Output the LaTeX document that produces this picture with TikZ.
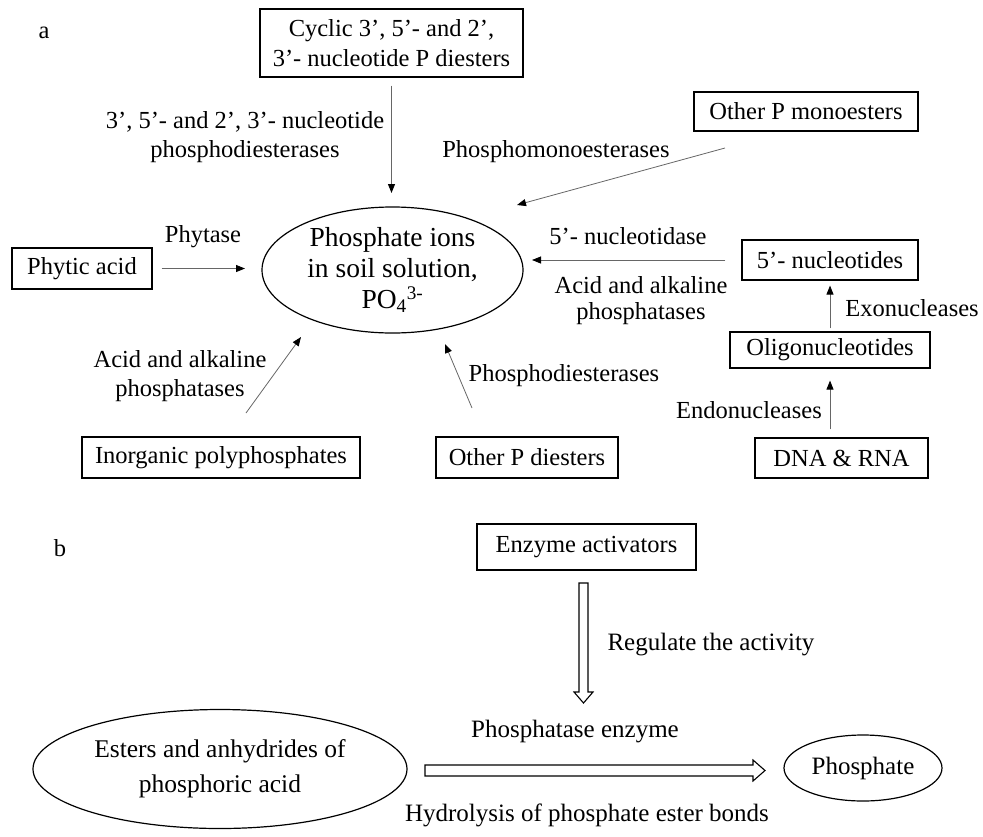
\documentclass[tikz,border=0pt]{standalone}
\usepackage{fontspec}
\setmainfont{Liberation Serif}
\usetikzlibrary{arrows.meta,shapes.geometric}

\begin{document}
\begin{tikzpicture}[x=1pt, y=-1pt,
  font=\fontsize{24.5}{29}\selectfont,
  box/.style={draw=black, line width=1.2pt, inner sep=0pt, align=center},
  oval/.style={ellipse, draw=black, line width=1.2pt, inner sep=0pt, align=center},
  lbl/.style={inner sep=0pt, align=center},
  flow/.style={draw=black!60, line width=0.8pt, -{Triangle[length=9pt, width=7pt, color=black]}},
  hollow/.style={draw=black, line width=1.1pt, line join=miter},
  ]
  \useasboundingbox (0,0) rectangle (983,836);

  %%% panel a : nodes %%%
  \node[lbl] (pa) at (44,33) {a};
  \node[box, minimum width=263pt, minimum height=68pt, font=\fontsize{24.5}{30}\selectfont] (cyclic) at (391.5,43) {Cyclic 3’, 5’- and 2’,\\3’- nucleotide P diesters};
  \node[oval, minimum width=261pt, minimum height=126pt, font=\fontsize{27.5}{31}\selectfont] (pion) at (392.5,270) {Phosphate ions\\in soil solution,\\PO\textsubscript{4}\textsuperscript{3-}};
  \node[box, minimum width=140pt, minimum height=41pt] (phytic) at (82,268.5) {Phytic acid};
  \node[box, minimum width=224pt, minimum height=39pt] (pmono) at (806,111.5) {Other P monoesters};
  \node[box, minimum width=176pt, minimum height=40pt] (nuc5) at (830,260) {5’- nucleotides};
  \node[box, minimum width=200pt, minimum height=36pt] (oligo) at (830,350) {Oligonucleotides};
  \node[box, minimum width=173pt, minimum height=40pt] (dna) at (841.5,458) {DNA \& RNA};
  \node[box, minimum width=278pt, minimum height=41pt] (inorg) at (221,457.5) {Inorganic polyphosphates};
  \node[box, minimum width=182pt, minimum height=41pt] (pdi) at (527,457.5) {Other P diesters};

  %%% panel a : enzyme labels %%%
  \node[lbl] (lcyc)  at (245,137.5) {3’, 5’- and 2’, 3’- nucleotide\\phosphodiesterases};
  \node[lbl] (lphy)  at (203,237)   {Phytase};
  \node[lbl] (lmono) at (556,152)   {Phosphomonoesterases};
  \node[lbl] (lnt)   at (628,236)   {5’- nucleotidase};
  \node[lbl, font=\fontsize{24.5}{26}\selectfont] (lalk) at (641,301) {Acid and alkaline\\phosphatases};
  \node[lbl] (linp)  at (180,376)   {Acid and alkaline\\phosphatases};
  \node[lbl] (ldi)   at (564,376)   {Phosphodiesterases};
  \node[lbl] (lexo)  at (912,308)   {Exonucleases};
  \node[lbl] (lendo) at (749,410)   {Endonucleases};

  %%% panel a : arrow ends near the ellipse %%%
  \coordinate (in-n)  at (391.5,193);
  \coordinate (in-ne) at (517,205);
  \coordinate (in-e)  at (532,260);
  \coordinate (in-w)  at (245,268.5);
  \coordinate (in-sw) at (301,337);
  \coordinate (in-s)  at (445,344);
  \coordinate (mono-out)  at (725,148);
  \coordinate (inorg-out) at (246,413);
  \coordinate (pdi-out)   at (472,408);

  %%% panel a : connectors %%%
  \draw[flow, shorten <=8pt] (cyclic.south) -- (in-n);
  \draw[flow] (mono-out) -- (in-ne);
  \draw[flow, shorten <=16pt] (nuc5.west) -- (in-e);
  \draw[flow, shorten <=9pt] (phytic.east) -- (in-w);
  \draw[flow] (inorg-out) -- (in-sw);
  \draw[flow] (pdi-out) -- (in-s);
  \draw[flow, shorten <=3pt, shorten >=5pt] (oligo.north) -- (nuc5.south);
  \draw[flow, shorten <=8pt, shorten >=12pt] (oligo.south |- dna.north) -- (oligo.south);

  %%% panel b %%%
  \node[lbl] (pb) at (60,548) {b};
  \node[box, minimum width=219pt, minimum height=46pt] (activ) at (586.5,547) {Enzyme activators};
  \node[oval, minimum width=374pt, minimum height=119pt, font=\fontsize{25.5}{35}\selectfont] (ester) at (220,769) {Esters and anhydrides of\\phosphoric acid};
  \node[oval, minimum width=158pt, minimum height=66pt, font=\fontsize{25}{30}\selectfont] (phos) at (863,768) {Phosphate};

  %%% hollow block arrows %%%
  \draw[hollow] (579,583) -- (588,583) -- (588,692) -- (593,692) -- (583.5,703)
    -- (574,692) -- (579,692) -- cycle;
  \draw[hollow] (425,765) -- (753,765) -- (753,760) -- (765,770.5) -- (753,781)
    -- (753,776) -- (425,776) -- cycle;

  \node[lbl, font=\fontsize{25}{30}\selectfont] (lreg) at (711,645) {Regulate the activity};
  \node[lbl, font=\fontsize{25}{30}\selectfont] (lenz) at (575,732) {Phosphatase enzyme};
  \node[lbl, font=\fontsize{25}{30}\selectfont] (lhyd) at (587,815) {Hydrolysis of phosphate ester bonds};
\end{tikzpicture}
\end{document}
